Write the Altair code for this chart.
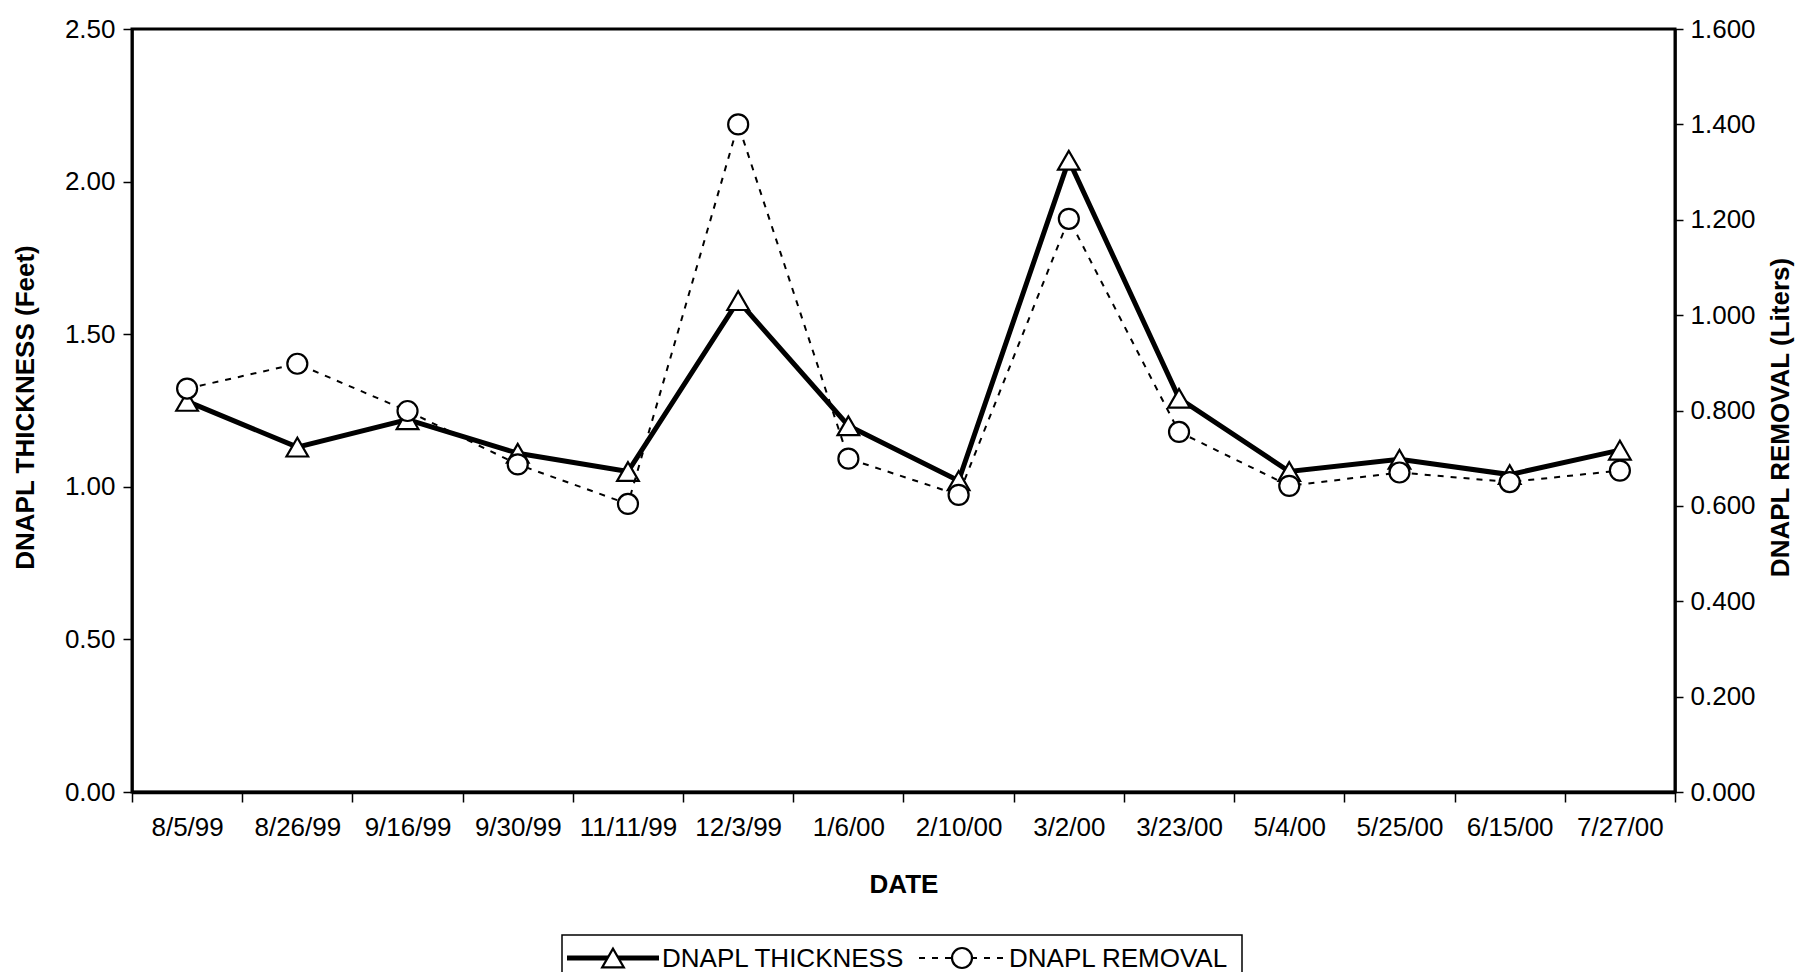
import altair as alt
import pandas as pd

# Sampling dates (category axis) and the two monitored quantities
dates = ["8/5/99", "8/26/99", "9/16/99", "9/30/99", "11/11/99", "12/3/99", "1/6/00",
         "2/10/00", "3/2/00", "3/23/00", "5/4/00", "5/25/00", "6/15/00", "7/27/00"]
thickness_ft = [1.28, 1.13, 1.22, 1.11, 1.05, 1.61, 1.20, 1.02, 2.07, 1.29, 1.05, 1.09, 1.04, 1.12]
removal_l = [0.846, 0.898, 0.799, 0.687, 0.604, 1.400, 0.699, 0.623, 1.202, 0.755, 0.642, 0.670, 0.650, 0.674]

series_names = ["DNAPL THICKNESS", "DNAPL REMOVAL"]
thickness_ticks = [0.0, 0.5, 1.0, 1.5, 2.0, 2.5]
removal_ticks = [0.0, 0.2, 0.4, 0.6, 0.8, 1.0, 1.2, 1.4, 1.6]

FONT = "Liberation Sans"
W, H = 1543, 763

df = pd.DataFrame({"date": dates, "thickness": thickness_ft, "removal": removal_l})

x_enc = alt.X(
    "date:N",
    sort=dates,
    scale=alt.Scale(type="band", paddingInner=0, paddingOuter=0),
    axis=alt.Axis(
        title="DATE", labelAngle=0, tickBand="extent", tickSize=10, labelPadding=12,
        titleX=W / 2, titleY=92, titleBaseline="middle", domainWidth=3.5,
    ),
)

base = alt.Chart(df)

# Thickness: heavy solid line with open triangles (left axis)
thick_line = base.mark_line(color="black", strokeWidth=5).encode(
    x=x_enc,
    y=alt.Y(
        "thickness:Q",
        scale=alt.Scale(domain=[0, 2.5], nice=False, zero=True),
        axis=alt.Axis(
            title="DNAPL THICKNESS (Feet)", values=thickness_ticks, format=".2f",
            tickSize=9, labelPadding=8, titleAngle=270, titleX=-107, titleY=378,
            titleBaseline="middle", titleAlign="center",
        ),
    ),
)
thick_pts = base.mark_point(
    shape="triangle-up", size=470, filled=True, fill="white", stroke="black",
    strokeWidth=2.2, opacity=1,
).encode(x=x_enc, y=alt.Y("thickness:Q"))

# Removal: thin dashed line with open circles (right axis)
rem_line = base.mark_line(color="black", strokeWidth=2, strokeDash=[6, 7]).encode(
    x=x_enc,
    y=alt.Y(
        "removal:Q",
        scale=alt.Scale(domain=[0, 1.6], nice=False, zero=True),
        axis=alt.Axis(
            title="DNAPL REMOVAL (Liters)", orient="right", values=removal_ticks, format=".3f",
            tickSize=8, labelPadding=7, titleAngle=270, titleX=105, titleY=388,
            titleBaseline="middle", titleAlign="center",
        ),
    ),
)
rem_pts = base.mark_point(
    shape="circle", size=400, filled=True, fill="white", stroke="black",
    strokeWidth=2.2, opacity=1,
).encode(x=x_enc, y=alt.Y("removal:Q"))

thick_layer = alt.layer(thick_line, thick_pts)
rem_layer = alt.layer(rem_line, rem_pts)

# Boxed legend below the axis title
leg = alt.Chart(pd.DataFrame({"k": [0]}))
leg_y = 929
leg_box = leg.mark_rect(fill="white", stroke="black", strokeWidth=1.5).encode(
    x=alt.value(430), x2=alt.value(1110), y=alt.value(906), y2=alt.value(965)
)
leg_thick_line = leg.mark_rule(color="black", strokeWidth=5).encode(
    x=alt.value(435), x2=alt.value(527), y=alt.value(leg_y)
)
leg_thick_pt = leg.mark_point(
    shape="triangle-up", size=470, filled=True, fill="white", stroke="black",
    strokeWidth=2.2, opacity=1,
).encode(x=alt.value(481), y=alt.value(leg_y))
leg_thick_txt = leg.mark_text(
    text=series_names[0], align="left", baseline="middle", font=FONT, fontSize=26, color="black"
).encode(x=alt.value(530), y=alt.value(leg_y + 1))
leg_rem_line = leg.mark_rule(color="black", strokeWidth=2, strokeDash=[6, 7]).encode(
    x=alt.value(787), x2=alt.value(872), y=alt.value(leg_y)
)
leg_rem_pt = leg.mark_point(
    shape="circle", size=400, filled=True, fill="white", stroke="black",
    strokeWidth=2.2, opacity=1,
).encode(x=alt.value(830), y=alt.value(leg_y))
leg_rem_txt = leg.mark_text(
    text=series_names[1], align="left", baseline="middle", font=FONT, fontSize=26, color="black"
).encode(x=alt.value(877), y=alt.value(leg_y + 1))

chart = (
    alt.layer(
        thick_layer, rem_layer,
        leg_box, leg_thick_line, leg_thick_pt, leg_thick_txt,
        leg_rem_line, leg_rem_pt, leg_rem_txt,
    )
    .resolve_scale(y="independent")
    .properties(
        width=W,
        height=H,
        autosize=alt.AutoSizeParams(type="none"),
        padding={"left": 132, "top": 29, "right": 122, "bottom": 180},
        background="white",
    )
    .configure_view(stroke="black", strokeWidth=3)
    .configure_axis(
        domainColor="black", domainWidth=2.5, tickColor="black", tickWidth=1.5,
        labelColor="black", labelFont=FONT, labelFontSize=26,
        titleFont=FONT, titleFontSize=26, titleFontWeight="bold", titleColor="black",
        grid=False,
    )
)

chart.save("out.html", embed_options={"renderer": "svg", "actions": False})
